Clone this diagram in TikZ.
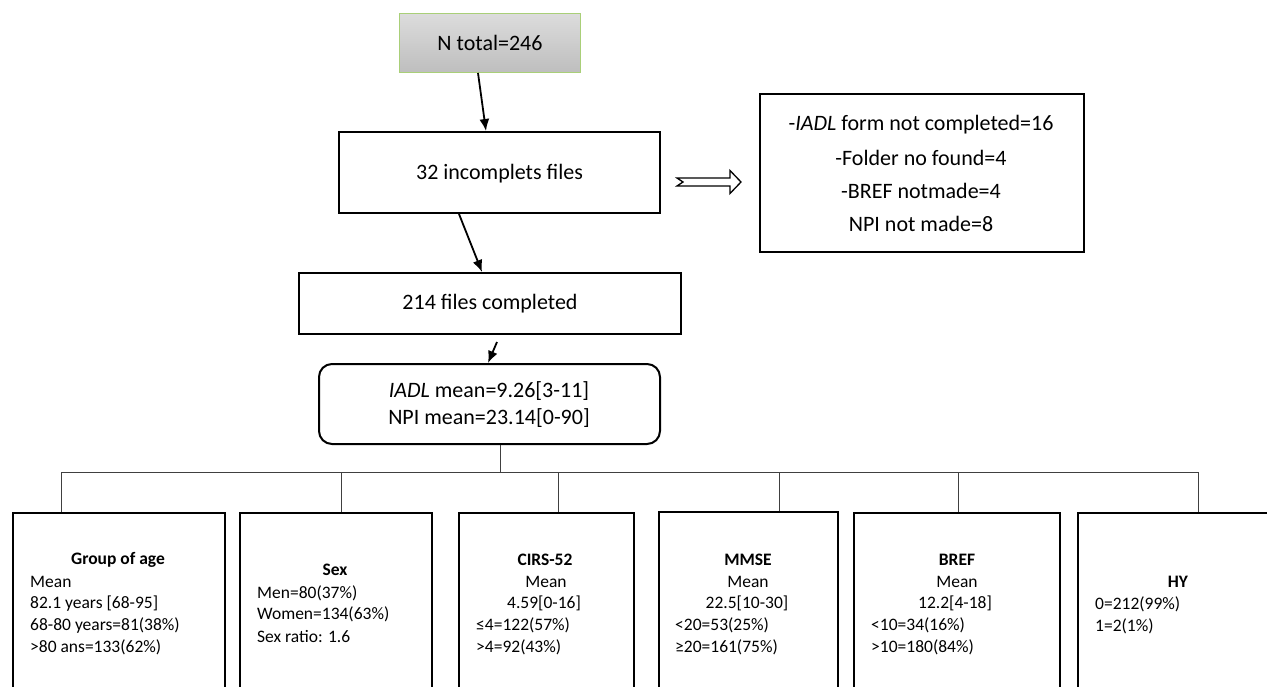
\documentclass[tikz,border=0pt]{standalone}
\usepackage{fontspec}
\setmainfont{Carlito}
\usetikzlibrary{arrows.meta,calc}
\begin{document}
\begin{tikzpicture}[x=1pt,y=-1pt,
  box/.style={draw=black,line width=2pt,rectangle,inner sep=0pt,anchor=north west},
  bigtxt/.style={font=\fontsize{22}{26}\selectfont,inner sep=0pt},
  lt/.style={font=\fontsize{17.5}{21}\selectfont,inner sep=0pt,anchor=base west},
  ttl/.style={font=\fontsize{17.5}{21}\selectfont\bfseries,inner sep=0pt,anchor=base},
  ctr/.style={font=\fontsize{17.5}{21}\selectfont,inner sep=0pt,anchor=base},
  arr/.style={line width=1.8pt,-{Latex[length=12pt,width=10pt]}},
  tree/.style={line width=1pt,draw=black!75}
]
\useasboundingbox (0,0) rectangle (1267,686);
\clip (0,0) rectangle (1267,686);

% top box
\node[anchor=north west,minimum width=181pt,minimum height=59pt,inner sep=0pt,
  draw={rgb,255:red,169;green,207;blue,120},line width=1pt,
  top color={rgb,255:red,220;green,220;blue,220},bottom color={rgb,255:red,190;green,190;blue,190}]
  (ntot) at (399,13) {};
\node[bigtxt] at (ntot.center) {N total=246};

% 32 incomplete
\node[box,minimum width=321pt,minimum height=81pt] (inc) at (338,131) {};
\node[bigtxt] at ($(inc.center)+(0,1)$) {32 incomplets files};

% right list box
\node[box,minimum width=324pt,minimum height=158pt] (lst) at (759,93) {};
\node[bigtxt,anchor=center] at (921,125) {-\textit{IADL} form not completed=16};
\node[bigtxt,anchor=center] at (921,158) {-Folder no found=4};
\node[bigtxt,anchor=center] at (921,191) {-BREF notmade=4};
\node[bigtxt,anchor=center] at (921,224) {NPI not made=8};

% 214 completed
\node[box,minimum width=382pt,minimum height=61pt] (cmp) at (298,272) {};
\node[bigtxt] at (cmp.center) {214 files completed};

% IADL rounded
\node[box,rounded corners=13pt,minimum width=341pt,minimum height=80pt] (iadl) at (318,363) {};
\node[bigtxt,anchor=center] at (489,391) {\textit{IADL} mean=9.26[3-11]};
\node[bigtxt,anchor=center] at (489,418) {NPI mean=23.14[0-90]};

% arrows
\draw[arr] (ntot.south -| 478,0) -- (inc.north -| 486,0);
\draw[arr] (inc.south -| 459,0) -- (cmp.north -| 482,0);
\coordinate (sa) at (497,342);
\draw[arr] (sa) -- (iadl.north -| 488,0);

% hollow block arrow
\coordinate (ha) at (677,182);
\coordinate (hb) at (741,182);
\draw[line width=1.3pt,line join=miter,fill=white]
  ($(ha)+(0,-4)$) -- (730,178) -- (730,170.5) -- (hb) -- (730,193.5) -- (730,186)
  -- ($(ha)+(0,4)$) -- ($(ha)+(6,0)$) -- cycle;

% bottom boxes
\node[box,minimum width=212pt,minimum height=200pt] (b1) at (12,512) {};
\node[box,minimum width=192pt,minimum height=200pt] (b2) at (239,512) {};
\node[box,minimum width=175pt,minimum height=200pt] (b3) at (458,512) {};
\node[box,minimum width=179pt,minimum height=200pt] (b4) at (658,511) {};
\node[box,minimum width=206pt,minimum height=200pt] (b5) at (853,512) {};
\node[box,minimum width=220pt,minimum height=200pt] (b6) at (1077,512) {};

% tree
\coordinate (bus) at (500,472);
\coordinate (d1) at (61,472);
\coordinate (d2) at (341,472);
\coordinate (d3) at (558,472);
\coordinate (d4) at (779,472);
\coordinate (d5) at (958,472);
\coordinate (d6) at (1198,472);
\draw[tree] (iadl.south -| bus) -- (bus);
\draw[tree] (d1) -- (d6);
\draw[tree] (d1) -- (d1 |- b1.north);
\draw[tree] (d2) -- (d2 |- b2.north);
\draw[tree] (d3) -- (d3 |- b3.north);
\draw[tree] (d4) -- (d4 |- b4.north);
\draw[tree] (d5) -- (d5 |- b5.north);
\draw[tree] (d6) -- (d6 |- b6.north);

% box 1 text
\node[ttl] at (118,564) {Group of age};
\node[lt] at (30,587) {Mean};
\node[lt] at (30,608) {82.1 years [68-95]};
\node[lt] at (30,630) {68-80 years=81(38\%)};
\node[lt] at (30,652) {>80 ans=133(62\%)};
% box 2
\node[ttl] at (335,575) {Sex};
\node[lt] at (257,598) {Men=80(37\%)};
\node[lt] at (257,619) {Women=134(63\%)};
\node[lt] at (257,642) {Sex ratio: 1.6};
% box 3
\node[ttl] at (545,565) {CIRS-52};
\node[ctr] at (546,587) {Mean};
\node[ctr] at (544,608) {4.59[0-16]};
\node[lt] at (476,630) {≤4=122(57\%)};
\node[lt] at (476,652) {>4=92(43\%)};
% box 4
\node[ttl] at (748,565) {MMSE};
\node[ctr] at (748,587) {Mean};
\node[ctr] at (747,608) {22.5[10-30]};
\node[lt] at (675,630) {<20=53(25\%)};
\node[lt] at (675,652) {≥20=161(75\%)};
% box 5
\node[ttl] at (957,565) {BREF};
\node[ctr] at (957,587) {Mean};
\node[ctr] at (955,608) {12.2[4-18]};
\node[lt] at (871,630) {<10=34(16\%)};
\node[lt] at (871,652) {>10=180(84\%)};
% box 6
\node[ttl] at (1178,587) {HY};
\node[lt] at (1095,609) {0=212(99\%)};
\node[lt] at (1095,631) {1=2(1\%)};
\end{tikzpicture}
\end{document}
